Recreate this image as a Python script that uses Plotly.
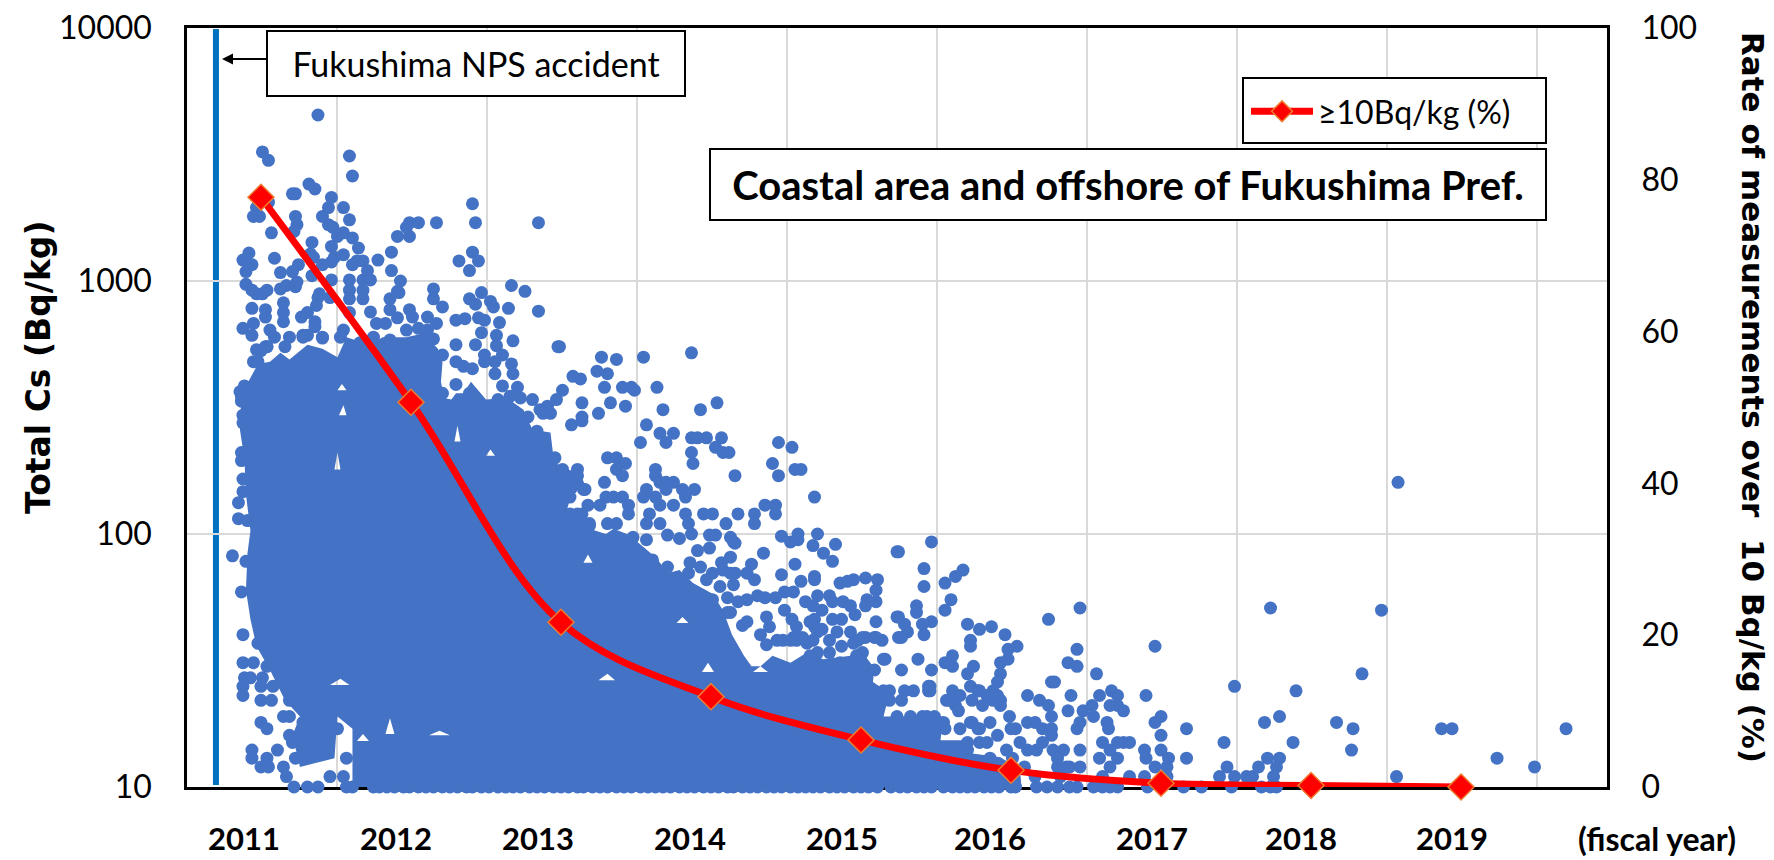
import plotly.graph_objects as go

# Fiscal-year axis: each unit is one fiscal year, value 2011 = FY2011 mid mark
year_labels = ["2011", "2012", "2013", "2014", "2015", "2016", "2017", "2018", "2019"]
year_label_x = [2010.89, 2011.90, 2012.85, 2013.86, 2014.87, 2015.86, 2016.94, 2017.93, 2018.94]
left_ticks = [10, 100, 1000, 10000]
right_ticks = [0, 20, 40, 60, 80, 100]

rate_x = [2011, 2012, 2013, 2014, 2015, 2016, 2017, 2018, 2019]
rate_pct = [77.7, 50.7, 21.7, 11.9, 6.2, 2.2, 0.5, 0.2, 0.0]

# Outline of the part of the cloud where thousands of dots merge into solid colour,
# followed by the small white gaps left inside it
dense_x = [2011.61,2011.61,2011.51,2011.49,2011.26,2011.21,2011.26,2011.16,2011.06,2010.97,2010.93,2010.90,2010.91,2010.93,2010.90,2010.89,2010.86,2010.87,2010.94,2010.98,2011.06,2011.13,2011.19,2011.31,2011.41,2011.51,2011.57,2011.73,2011.81,2011.97,2012.08,2012.18,2012.21,2012.20,2012.22,2012.27,2012.30,2012.35,2012.40,2012.50,2012.64,2012.75,2012.81,2012.93,2012.95,2012.99,2013.13,2013.17,2013.08,2013.04,2013.10,2013.19,2013.30,2013.35,2013.44,2013.52,2013.64,2013.71,2013.79,2013.88,2014.01,2014.08,2014.14,2014.22,2014.27,2014.33,2014.41,2014.53,2014.64,2014.75,2014.93,2015.01,2015.08,2015.08,2015.19,2015.15,2015.33,2015.55,2015.53,2015.68,2015.73,2015.93,2016.06,2016.07,
 None,2011.55,2011.52,2011.57,None,2011.54,2011.51,2011.57,None,2011.51,2011.49,2011.53,None,2012.31,2012.29,2012.33,None,2012.53,2012.50,2012.56,None,2011.53,2011.46,2011.59,None,2011.86,2011.83,2011.89,None,2012.19,2012.12,2012.26,None,2011.68,2011.64,2011.72,None,2013.31,2013.25,2013.36,None,2013.18,2013.15,2013.21,None,2013.81,2013.77,2013.85,None,2013.98,2013.94,2014.02,None,2014.33,2014.28,2014.38]
dense_y = [10,17,19,13,12,16,19,22,29,36,46,60,84,103,143,197,258,355,425,470,480,520,490,560,540,500,600,560,600,600,620,540,475,400,345,340,360,360,400,340,345,310,258,252,201,184,174,150,150,125,112,105,100,105,100,92,80,70,72,64,58,50,40,33,30,30,33,31,34,32,33,34,30,26,23.5,19,19,19,15.3,15.3,13.6,13.1,11.7,10,
 None,323,295,295,None,392,370,370,None,210,180,180,None,268,232,232,None,216,204,204,None,26.8,25.3,25.3,None,18.7,16.2,16.2,None,16.7,16,16,None,16.2,15.2,15.2,None,28,26.4,26.4,None,83,77,77,None,47,44.5,44.5,None,31,28.5,28.5,None,30,28.5,28.5]

# Individually visible measurements: (fiscal-year position, Bq/kg)
points = [
(2011.38,4530),(2011.01,3236),(2011.05,3000),(2011.59,3120),(2011.61,2600),(2011.32,2415),(2011.36,2310),(2011.21,2210),(2011.23,2210),(2011.47,2140),
(2011.55,1950),(2011.45,1950),(2011.05,2050),(2010.97,1950),(2010.95,1800),(2010.99,1800),(2011.23,1800),(2011.24,1670),(2011.22,1570),(2011.41,1800),
(2011.59,1745),(2011.45,1670),(2011.48,1630),(2011.07,1550),(2011.34,1420),(2011.55,1550),(2011.51,1500),(2011.61,1480),(2011.47,1370),(2011.65,1350),
(2011.55,1270),(2010.92,1290),(2010.88,1210),(2010.94,1160),(2010.90,1090),(2011.09,1230),(2011.33,1280),(2011.35,1240),(2011.78,1210),(2011.87,1300),
(2011.87,1100),(2011.91,1500),(2011.99,1700),(2012.05,1700),(2012.17,1700),(2011.99,1500),(2011.97,1630),(2012.41,2020),(2012.43,1700),(2012.85,1700),
(2012.41,1300),(2012.32,1200),(2012.45,1200),(2012.39,1100),(2011.93,1000),(2012.67,960),(2012.76,910),(2012.47,900),(2012.85,760),(2012.65,780),
(2012.39,850),(2012.43,810),(2012.53,830),(2012.55,790),(2012.15,930),(2012.15,850),(2012.21,790),(2011.91,910),(2011.86,850),(2011.86,770),
(2011.99,770),(2012.01,720),(2012.11,720),(2012.17,680),(2012.30,700),(2012.36,710),(2012.45,715),(2012.49,700),(2012.59,685),(2012.68,580),
(2012.98,550),(2012.30,560),(2012.43,560),(2012.47,625),(2012.57,610),(2012.49,510),(2012.61,510),(2012.56,480),(2012.67,470),(2012.68,430),
(2012.30,480),(2012.35,460),(2012.41,450),(2012.56,430),(2010.94,780),(2011.03,770),(2011.03,720),(2011.15,820),(2011.15,750),(2011.15,690),
(2011.27,720),(2011.31,750),(2011.37,800),(2011.38,860),(2010.95,680),(2010.88,650),(2010.94,610),(2011.06,640),(2011.09,600),(2011.19,600),
(2011.36,690),(2011.36,660),(2010.90,970),(2010.94,920),(2010.97,890),(2011.01,890),(2011.04,920),(2011.13,930),(2011.17,960),(2011.23,950),
(2011.24,990),(2011.13,1080),(2011.21,1090),(2011.25,1160),(2011.34,1050),(2011.41,1160),(2011.47,1190),(2011.49,1240),(2011.47,1010),(2011.39,890),
(2011.46,860),(2011.59,1010),(2011.59,920),(2011.59,850),(2011.59,750),(2011.68,1010),(2011.68,920),(2011.73,1010),(2011.68,850),(2011.64,1200),
(2011.68,1200),(2011.61,1160),(2011.71,1100),(2011.73,755),(2011.83,680),(2011.91,715),(2011.77,680),(2011.97,640),(2012.05,650),(2012.11,640),
(2012.15,590),(2012.21,510),(2011.55,640),(2011.28,610),(2011.41,600),(2011.04,550),(2011.00,530),(2010.95,480),(2010.98,480),(2011.03,550),
(2011.16,550),(2011.31,610),(2011.92,900),(2012.49,480),(2012.57,555),(2012.71,380),(2012.61,385),(2012.30,390),(2012.21,360),(2012.28,300),
(2012.81,340),(2012.73,345),(2012.66,350),(2012.91,320),(2012.86,310),(2012.78,290),(2012.84,255),(2012.18,290),(2012.21,250),(2012.39,360),
(2012.37,340),(2012.31,330),(2012.58,340),(2012.51,290),(2012.66,295),(2012.99,550),(2013.27,500),(2013.37,490),(2013.55,500),(2013.87,520),
(2013.24,440),(2013.31,430),(2013.08,420),(2013.13,410),(2013.29,380),(2013.41,380),(2013.47,380),(2013.49,370),(2013.64,380),(2013.01,370),
(2012.97,340),(2013.14,330),(2013.33,330),(2013.43,320),(2013.25,300),(2013.68,310),(2013.93,310),(2014.04,330),(2013.07,270),(2013.14,290),
(2013.14,280),(2013.57,270),(2012.93,300),(2012.88,300),(2013.53,230),(2013.66,250),(2013.75,250),(2013.70,230),(2013.87,240),(2013.91,240),
(2013.97,240),(2014.07,240),(2014.03,220),(2014.08,210),(2014.12,210),(2013.87,210),(2013.88,190),(2014.45,230),(2014.54,220),(2014.41,190),
(2014.45,170),(2014.56,180),(2014.60,180),(2014.16,170),(2014.69,140),(2013.31,200),(2013.37,200),(2013.43,190),(2013.37,180),(2013.41,170),
(2013.29,160),(2013.63,180),(2013.63,170),(2013.66,160),(2013.70,160),(2013.75,160),(2013.70,150),(2013.57,150),(2013.81,150),(2013.89,150),
(2013.83,140),(2013.16,150),(2013.11,180),(2013.11,170),(2012.86,210),(2012.96,200),(2013.01,180),(2012.88,190),(2013.30,140),(2013.35,140),
(2013.41,140),(2013.55,140),(2013.63,140),(2014.36,130),(2014.43,130),(2014.29,120),(2014.43,120),(2014.29,110),(2013.95,120),(2014.01,120),
(2014.18,120),(2014.10,110),(2013.75,130),(2013.83,120),(2013.85,110),(2013.87,100),(2013.66,130),(2013.59,120),(2013.57,110),(2013.66,110),
(2013.26,130),(2013.18,130),(2013.45,130),(2013.45,120),(2013.37,110),(2013.31,110),(2013.19,110),(2013.11,120),(2014.47,98),(2014.58,100),
(2014.71,100),(2014.53,93),(2014.58,95),(2014.68,90),(2014.83,91),(2014.75,84),(2014.81,78),(2015.24,85),(2014.35,84),(2014.56,76),
(2014.27,76),(2014.24,70),(2014.47,69),(2014.29,66),(2014.69,68),(2014.69,66),(2014.60,65),(2015.03,67),(2015.11,66),(2014.95,66),
(2014.91,65),(2014.86,64),(2015.10,60),(2015.10,54),(2015.03,52),(2015.04,55),(2014.96,48),(2014.88,54),(2014.93,52),(2014.79,57),
(2014.81,54),(2014.71,57),(2014.74,50),(2014.63,54),(2014.68,52),(2014.55,59),(2014.49,59),(2014.43,56),(2014.36,56),(2014.31,57),
(2014.24,55),(2014.18,54),(2014.49,50),(2014.54,46),(2014.57,43),(2014.37,47),(2014.39,43),(2014.33,40),(2015.10,45),(2015.24,47),
(2015.25,39),(2014.81,46),(2014.87,46),(2014.84,41),(2014.93,41),(2014.79,38),(2014.87,36),(2014.69,46),(2014.71,42),(2014.58,39),
(2014.98,38),(2015.09,39),(2015.14,38),(2015.03,39),(2015.15,32),(2014.98,33),(2014.86,31),(2014.79,34),(2014.71,34),(2014.66,33),
(2015.47,93),(2015.25,85),(2015.42,73),(2015.42,62),(2015.56,64),(2015.63,68),(2015.68,72),(2015.60,55),(2015.56,50),(2015.37,52),
(2015.37,49),(2016.25,46),(2015.25,47),(2015.29,44),(2015.31,41),(2015.27,39),(2015.47,45),(2015.41,44),(2015.42,40),(2015.71,44),
(2015.79,42),(2015.87,43),(2015.96,40),(2016.04,36),(2015.98,35),(2015.73,38),(2015.73,36),(2015.38,32),(2015.27,29),(2015.47,29),
(2015.56,31),(2015.61,30),(2015.61,33),(2015.75,30),(2015.71,28),(2015.93,31),(2015.98,32),(2015.93,28),(2015.91,26),(2015.88,24),
(2016.11,23),(2016.19,22),(2016.27,26),(2015.73,25),(2015.78,24),(2015.61,24),(2015.57,22),(2015.63,21),(2015.46,25),(2015.46,24),
(2015.35,24),(2015.29,24),(2015.93,22),(2015.86,23),(2015.81,21),(2015.73,18),(2015.78,17),(2016.46,51),(2016.44,35),(2016.38,31),
(2016.44,30),(2016.29,26),(2016.57,28),(2016.96,36),(2016.40,23),(2016.59,23),(2016.67,24),(2016.71,23),(2016.38,20),(2016.48,20),
(2016.54,21),(2016.55,19),(2016.66,21),(2016.71,21),(2016.75,20),(2016.46,18),(2016.44,17),(2016.64,18),(2016.65,17),(2016.90,23),
(2017.00,19),(2016.96,18),(2017.00,16),(2017.17,17),(2017.17,13),(2016.89,14),(2016.90,13),(2017.00,14),(2017.05,13),(2016.96,12),
(2017.04,12),(2016.61,15),(2016.71,15),(2016.75,15),(2016.79,15),(2016.46,14),(2016.59,13),(2016.66,14),(2016.71,13),(2016.66,12),
(2016.61,11),(2016.35,14),(2016.31,12),(2016.46,12),(2016.39,12),(2016.33,11),(2016.79,11),(2016.89,11),(2017.04,11),(2017.42,15),
(2017.44,12),(2017.49,11),(2017.39,11),(2017.57,11),(2017.61,11),(2017.49,25),(2017.73,51),(2017.90,24),(2017.69,18),(2017.79,19),
(2017.88,15),(2017.71,13),(2017.79,13),(2017.65,12),(2017.77,12),(2017.75,11),(2018.47,50),(2018.34,28),(2018.17,18),(2018.28,17),
(2018.27,14),(2018.58,160),(2018.57,11),(2018.87,17),(2018.94,17),(2019.24,13),(2019.49,12),(2019.70,17),
(2010.81,82),(2010.90,78),(2010.87,59),(2010.88,40),(2010.88,31),(2010.89,27),(2010.88,25),(2010.88,23),(2010.98,37),(2011.00,22),
(2011.07,22),(2011.00,18),(2011.04,17),(2011.15,19),(2010.94,14),(2010.94,13),(2011.11,14),(2011.04,13),(2011.00,12),(2011.05,12),
(2011.19,16),(2011.21,15),(2011.31,14),(2011.23,13),(2011.15,12),(2011.17,11),(2011.46,11),(2011.57,13),(2011.55,11),(2011.51,17),
(2010.87,350),(2010.86,365),(2010.89,385),(2010.87,335),(2010.88,295),(2010.88,275),(2010.87,210),(2010.87,195),(2010.88,165),(2010.88,147),
(2010.85,133),(2010.85,115),(2010.91,113),(2015.59,22),(2015.66,23),(2015.88,22),(2015.55,18),(2015.49,19),(2015.41,19),(2015.74,18),
(2015.79,17),(2015.86,18),(2015.99,19),(2016.03,17),(2015.91,16),(2016.25,21),(2016.27,19),(2016.11,18),(2016.16,18),(2016.21,17),
(2016.27,17),(2016.27,16),(2016.06,15),(2016.11,14),(2016.17,14),(2016.21,15),(2016.28,14),(2016.09,12),(2016.16,11),(2016.31,13),
(2016.37,12),(2015.79,15),(2015.84,15),(2015.86,13),(2015.97,14),(2016.01,13),(2015.71,14),(2015.55,11),(2015.48,15),(2015.41,15),
(2015.71,15),(2013.99,99),(2014.15,93),(2014.69,43),(2014.61,39),(2014.55,39),(2015.01,39),(2015.10,39),(2014.95,37),(2015.16,32),
(2015.01,34),(2014.97,33),(2015.09,29),(2015.04,27),(2015.15,24),(2015.19,24),(2015.45,25),(2015.45,24),(2015.27,22),(2015.19,22),
(2015.33,19),(2015.44,19),(2015.24,19),(2015.56,17),(2015.66,17),(2015.44,17),(2015.37,17),(2015.31,18),(2015.65,20),(2015.74,22),
(2015.79,24),(2015.84,23),(2015.91,23),(2015.93,21),(2016.00,17),
(2011.01,37),(2011.06,36),(2010.95,31),(2011.04,30),(2011.13,30),(2011.01,27),(2010.93,27),(2011.00,25),(2011.08,25),(2011.19,22),
(2011.26,21),(2011.19,19),(2011.28,18),(2011.35,17),(2011.41,18),(2010.97,535),(2011.04,550),(2011.28,600),(2011.41,595),(2011.53,600),
(2011.66,570),(2011.75,600),(2011.86,585),(2012.01,570),(2012.11,600),(2013.06,140),(2013.15,150),(2013.07,152),(2013.14,120),(2013.06,120),
(2013.04,110),(2013.12,110),(2013.19,108),
(2013.48,97),(2013.57,95),(2013.71,99),(2013.79,96),(2013.91,86),(2014.03,99),(2014.13,97),(2014.16,92),(2014.13,81),(2014.07,77),(2013.99,88),
(2013.53,84),(2013.61,79),(2013.71,74),(2013.86,77),(2013.93,74),(2014.01,70),(2014.13,70),(2014.16,70),(2014.08,72),
(2013.53,68),(2013.64,63),(2013.75,66),(2013.85,70),(2013.97,66),(2014.06,62),(2014.15,63),(2014.11,56),
(2014.01,55),(2014.11,49),(2014.13,49),(2014.24,45),(2014.21,43.5),
(2014.37,36.5),(2014.44,38),(2014.48,38),(2014.53,38),(2014.57,38),(2014.64,37),(2014.68,38),(2014.74,42),(2014.66,45),(2014.71,41),
]
scatter_x = [p[0] for p in points]
scatter_y = [p[1] for p in points]

# Measurements sitting on the 10 Bq/kg floor
floor_x = [2011.22,2011.31,2011.38,2011.57,2011.61,2011.75,2011.79,2011.84,2011.89,2011.95,2011.99,2012.05,2012.10,2012.15,2012.21,2012.26,2012.31,2012.37,2012.41,2012.47,2012.52,2012.58,2012.63,2012.68,2012.73,2012.79,2012.84,2012.89,2012.95,2013.00,2013.05,2013.11,2013.15,2013.21,2013.26,2013.31,2013.37,2013.42,2013.47,2013.53,2013.58,2013.63,2013.68,2013.73,2013.79,2013.84,2013.89,2013.95,2014.00,2014.05,2014.11,2014.15,2014.21,2014.26,2014.31,2014.37,2014.42,2014.47,2014.53,2014.58,2014.63,2014.68,2014.73,2014.79,2014.84,2014.89,2014.95,2015.00,2015.05,2015.11,2015.20,2015.26,2015.31,2015.37,2015.42,2015.47,2015.55,2015.61,2015.66,2015.71,2015.76,2015.82,2015.87,2015.92,2016.00,2016.03,2016.17,2016.24,2016.31,2016.39,2016.44,2016.55,2016.61,2016.66,2016.71,2016.91,2017.15,2017.27,2017.47,2017.67,2017.73,2017.77]
floor_y = [10] * len(floor_x)

PL, PR, PT, PB = 187, 1607, 28, 787
xp = lambda px: (px - PL) / (PR - PL)
yp = lambda py: (PB - py) / (PB - PT)

BLUE = "#4472C4"
FONT = "Lato"

fig = go.Figure()
fig.add_trace(go.Scatter(x=dense_x, y=dense_y, mode="lines", fill="toself", fillcolor=BLUE,
                         line=dict(color=BLUE, width=0), hoverinfo="skip", showlegend=False, cliponaxis=False))
fig.add_trace(go.Scatter(x=scatter_x + floor_x, y=scatter_y + floor_y, mode="markers", name="Total Cs",
                         marker=dict(color=BLUE, size=13), showlegend=False, cliponaxis=False))
fig.add_trace(go.Scatter(x=rate_x, y=rate_pct, mode="lines+markers", name="≥10Bq/kg (%)", yaxis="y2",
                         line=dict(color="#FF0000", width=7, shape="spline", smoothing=1),
                         marker=dict(symbol="diamond", size=20, color="#FF0000", line=dict(color="#ED7D31", width=1.5)),
                         cliponaxis=False))

annots = []
for lab, x in zip(year_labels, year_label_x):
    annots.append(dict(x=x, xref="x", y=yp(838), yref="paper", text=f"<b>{lab}</b>", showarrow=False,
                       xanchor="center", yanchor="middle", font=dict(family=FONT, size=31, color="black")))
annots.append(dict(x=xp(1657), y=yp(838), xref="paper", yref="paper", text="<b>(fiscal year)</b>", showarrow=False,
                   xanchor="center", yanchor="middle", font=dict(family=FONT, size=32, color="black")))
annots.append(dict(x=xp(38), y=yp(367), xref="paper", yref="paper", text="<b>Total Cs (Bq/kg)</b>", textangle=-90,
                   showarrow=False, xanchor="center", yanchor="middle", font=dict(family="DejaVu Sans", size=33, color="black")))
annots.append(dict(x=xp(1753), y=yp(397), xref="paper", yref="paper", text="<b>Rate of measurements over  10 Bq/kg (%)</b>",
                   textangle=90, showarrow=False, xanchor="center", yanchor="middle", font=dict(family="DejaVu Sans", size=31, color="black")))
annots.append(dict(x=xp(476), y=yp(64), xref="paper", yref="paper", text="Fukushima NPS accident", showarrow=False,
                   xanchor="center", yanchor="middle", width=414, height=61, bgcolor="white", bordercolor="black", borderwidth=2,
                   font=dict(family=FONT, size=34, color="black")))
annots.append(dict(x=xp(1128), y=yp(184), xref="paper", yref="paper", text="<b>Coastal area and offshore of Fukushima Pref.</b>",
                   xanchor="center", yanchor="middle", showarrow=False, width=832, height=67, bgcolor="white", bordercolor="black", borderwidth=2,
                   font=dict(family=FONT, size=40, color="black")))
annots.append(dict(x=xp(222), y=yp(59), ax=46, ay=0, xref="paper", yref="paper", text="", showarrow=True,
                   arrowhead=2, arrowsize=1.1, arrowwidth=2, arrowcolor="black"))

fig.update_layout(
    width=1774, height=860,
    margin=dict(l=PL, r=1774 - PR, t=PT, b=860 - PB, pad=0, autoexpand=False),
    paper_bgcolor="white", plot_bgcolor="white",
    font=dict(family=FONT, size=32, color="black"),
    xaxis=dict(range=[2010.507, 2019.973], tick0=2010.507, dtick=1, showticklabels=False, ticks="",
               showgrid=True, gridcolor="#D9D9D9", gridwidth=2, zeroline=False,
               showline=True, linecolor="black", linewidth=2.5, mirror=True, layer="below traces"),
    yaxis=dict(type="log", range=[1, 4], tickvals=left_ticks, ticktext=[str(v) for v in left_ticks],
               ticks="outside", ticklen=26, tickwidth=1, tickcolor="rgba(0,0,0,0)", showgrid=True,
               gridcolor="#D9D9D9", gridwidth=2, showline=True, linecolor="black", linewidth=2.5, mirror=True,
               zeroline=False, layer="below traces"),
    yaxis2=dict(overlaying="y", side="right", range=[0, 100], tickvals=right_ticks, ticks="outside", ticklen=27,
                tickwidth=1, tickcolor="rgba(0,0,0,0)", showgrid=False, zeroline=False, showline=False),
    legend=dict(x=xp(1246), y=yp(84), xanchor="left", yanchor="top", bgcolor="rgba(0,0,0,0)", borderwidth=0,
                itemwidth=62, font=dict(family=FONT, size=32, color="black")),
    annotations=annots,
    shapes=[dict(type="line", xref="x", yref="paper", x0=2010.70, x1=2010.70, y0=yp(785), y1=yp(29),
                 line=dict(color="#0070C0", width=6), layer="below"),
            dict(type="rect", xref="paper", yref="paper", x0=xp(1243), x1=xp(1546), y0=yp(143), y1=yp(78),
                 fillcolor="white", line=dict(color="black", width=2), layer="above")],
)
fig.write_html("out.html", post_script="document.body.style.margin='0';", config={"displayModeBar": False})
